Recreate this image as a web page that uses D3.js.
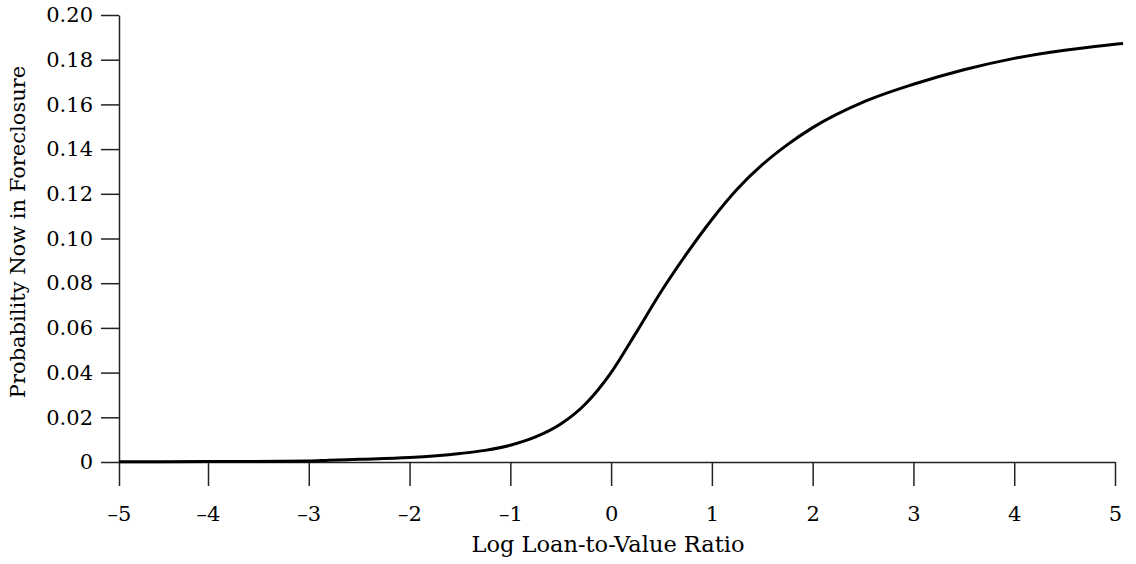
<!DOCTYPE html>
<html lang="en">

<head>
    <meta charset="UTF-8">
    <title>Foreclosure probability vs log LTV</title>

    <script src="https://cdn.jsdelivr.net/npm/d3@7"></script>

    <style>
        body {
            margin: 0;
            background: #fff;
        }

        .tick text,
        .axis_title {
            font-family: "DejaVu Serif", serif;
            fill: #000;
        }
    </style>

</head>


<body>
    <svg width="1136" height="564"></svg>

    <script>
        // values
        const logLTV = [-5, -4, -3, -2.8, -2.5, -2, -1.5, -1.25, -1, -0.75, -0.5, -0.25, 0, 0.25,
            0.5, 0.75, 1, 1.25, 1.5, 1.75, 2, 2.5, 3, 3.5, 4, 4.5, 5, 5.08];
        const probForeclosure = [0.0001, 0.0002, 0.0004, 0.0008, 0.0012, 0.0020, 0.0038, 0.0052,
            0.0075, 0.0112, 0.0170, 0.0262, 0.0400, 0.0580, 0.0765, 0.0932, 0.1085, 0.1220,
            0.1330, 0.1420, 0.1496, 0.1610, 0.1690, 0.1755, 0.1806, 0.1842, 0.1869, 0.1873];

        const xTicks = [-5, -4, -3, -2, -1, 0, 1, 2, 3, 4, 5];
        const yTicks = [0, 0.02, 0.04, 0.06, 0.08, 0.10, 0.12, 0.14, 0.16, 0.18, 0.20];

        let svg = d3.select("svg");

        // the first tick interval is drawn narrower than the rest in the original
        let x = d3.scaleLinear()
            .domain([-5, -4, 5])
            .range([119, 208, 1115]);

        let y = d3.scaleLinear()
            .domain([0, 0.2])
            .range([462, 15]);

        // y axis
        svg.append("g")
            .attr("transform", "translate(119,0)")
            .call(d3.axisLeft(y)
                .tickValues(yTicks)
                .tickSize(18)
                .tickSizeOuter(0)
                .tickPadding(8)
                .tickFormat(d => d === 0 ? "0" : d3.format(".2f")(d)));

        // x axis
        svg.append("g")
            .attr("transform", "translate(0,462)")
            .call(d3.axisBottom(x)
                .tickValues(xTicks)
                .tickSize(24)
                .tickSizeOuter(0)
                .tickPadding(20)
                .tickFormat(d => d < 0 ? "\u2013" + Math.abs(d) : String(d)));

        svg.selectAll(".domain, .tick line")
            .attr("stroke", "#222")
            .attr("stroke-width", 1.5);
        svg.selectAll(".tick text").style("font-size", "21px");

        // curve
        let line = d3.line()
            .x((d, i) => x(logLTV[i]))
            .y(d => y(d))
            .curve(d3.curveMonotoneX);

        svg.append("path")
            .datum(probForeclosure)
            .attr("d", line)
            .attr("fill", "none")
            .attr("stroke", "#000")
            .attr("stroke-width", 3)
            .attr("stroke-linejoin", "round");

        // axis titles
        svg.append("text")
            .attr("class", "axis_title")
            .attr("x", 608)
            .attr("y", 552)
            .attr("text-anchor", "middle")
            .style("font-size", "22.5px")
            .text("Log Loan-to-Value Ratio");

        svg.append("text")
            .attr("class", "axis_title")
            .attr("transform", "translate(25,232) rotate(-90)")
            .attr("text-anchor", "middle")
            .style("font-size", "21px")
            .text("Probability Now in Foreclosure");
    </script>
</body>

</html>
